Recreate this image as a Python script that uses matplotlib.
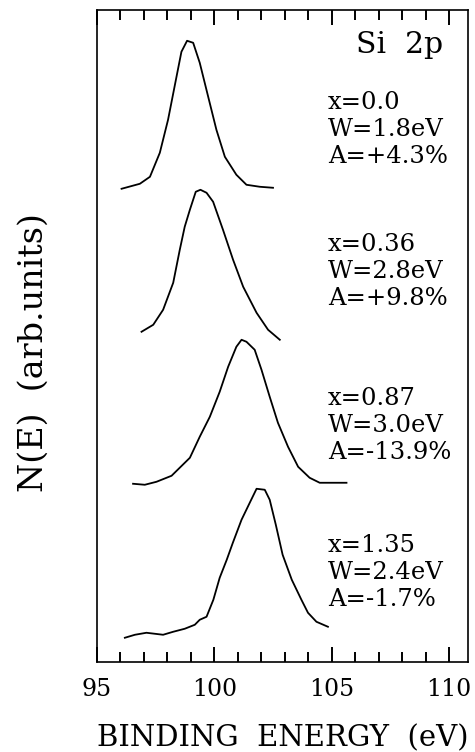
import numpy as np
import matplotlib.pyplot as plt

# ---------------- data ----------------
# binding energy (eV) and N(E) (arb. units, curves already offset)
e_x000 = [96.05, 96.83, 97.26, 97.68, 98.03, 98.39, 98.60, 98.84, 99.10, 99.38,
          99.74, 100.09, 100.45, 100.94, 101.37, 101.94, 102.50]
n_x000 = [4.73, 4.78, 4.85, 5.09, 5.42, 5.85, 6.10, 6.21, 6.19, 5.99,
          5.65, 5.32, 5.05, 4.87, 4.77, 4.75, 4.74]

e_x036 = [96.90, 97.40, 97.82, 98.25, 98.53, 98.74, 98.96, 99.21, 99.41,
          99.67, 99.95, 100.37, 100.80, 101.23, 101.80, 102.29, 102.79]
n_x036 = [3.30, 3.37, 3.52, 3.79, 4.12, 4.35, 4.52, 4.70, 4.72,
          4.69, 4.60, 4.32, 4.02, 3.75, 3.49, 3.32, 3.22]

e_x087 = [96.54, 97.04, 97.54, 98.18, 98.96, 99.38, 99.81, 100.23, 100.59, 100.94,
          101.16, 101.37, 101.72, 102.01, 102.36, 102.71, 103.14, 103.57, 104.06,
          104.49, 105.63]
n_x087 = [1.78, 1.77, 1.80, 1.86, 2.04, 2.25, 2.45, 2.70, 2.95, 3.15,
          3.22, 3.20, 3.12, 2.92, 2.65, 2.39, 2.15, 1.95, 1.84,
          1.79, 1.79]

e_x135 = [96.19, 96.62, 97.11, 97.82, 98.25, 98.74, 99.17, 99.38, 99.67, 99.96,
          100.23, 100.53, 100.79, 101.16, 101.51, 101.80, 102.15, 102.36, 102.62,
          102.91, 103.30, 103.71, 103.99, 104.35, 104.84]
n_x135 = [0.24, 0.27, 0.29, 0.27, 0.30, 0.33, 0.37, 0.42, 0.45, 0.62,
          0.84, 1.02, 1.19, 1.42, 1.59, 1.73, 1.72, 1.62, 1.37,
          1.07, 0.82, 0.62, 0.49, 0.40, 0.35]

labels = [["x=0.0", "W=1.8eV", "A=+4.3%"],
          ["x=0.36", "W=2.8eV", "A=+9.8%"],
          ["x=0.87", "W=3.0eV", "A=-13.9%"],
          ["x=1.35", "W=2.4eV", "A=-1.7%"]]

# ---------------- plotting ----------------
fig = plt.figure(figsize=(4.75, 7.52), dpi=100)
ax = fig.add_axes([0.204, 0.12, 0.781, 0.867])

for e, n in [(e_x000, n_x000), (e_x036, n_x036), (e_x087, n_x087), (e_x135, n_x135)]:
    ax.plot(e, n, color="black", lw=1.3, solid_joinstyle="round")

ax.set_xlim(95, 110.8)
ax.set_ylim(0, 6.52)

ax.set_xticks([95, 100, 105, 110])
ax.set_xticks(np.arange(96, 111, 1), minor=True)
ax.set_yticks([])
ax.tick_params(axis="x", which="both", direction="in", top=True, bottom=True,
               width=1.4, labelsize=17, pad=12)
ax.tick_params(axis="x", which="major", length=11)
ax.tick_params(axis="x", which="minor", length=7)
for lab in ax.get_xticklabels():
    lab.set_family("DejaVu Serif")
for sp in ax.spines.values():
    sp.set_linewidth(1.2)

ax.set_xlabel("BINDING  ENERGY  (eV)", family="DejaVu Serif", fontsize=21)
ax.xaxis.set_label_coords(0.5, -0.096)
ax.set_ylabel("N(E)  (arb.units)", family="DejaVu Serif", fontsize=24)
ax.yaxis.set_label_coords(-0.128, 0.475)

ax.text(0.933, 0.968, "Si  2p", transform=ax.transAxes, ha="right", va="top",
        family="DejaVu Serif", fontsize=21.5)

block_y = [0.816, 0.598, 0.362, 0.1365]
for lines, yc in zip(labels, block_y):
    for k, s in enumerate(lines):
        ax.text(0.623, yc + (1 - k) * 0.0414, s, transform=ax.transAxes,
                ha="left", va="center", family="DejaVu Serif", fontsize=17.5)

fig.savefig("out.png", dpi=100)
